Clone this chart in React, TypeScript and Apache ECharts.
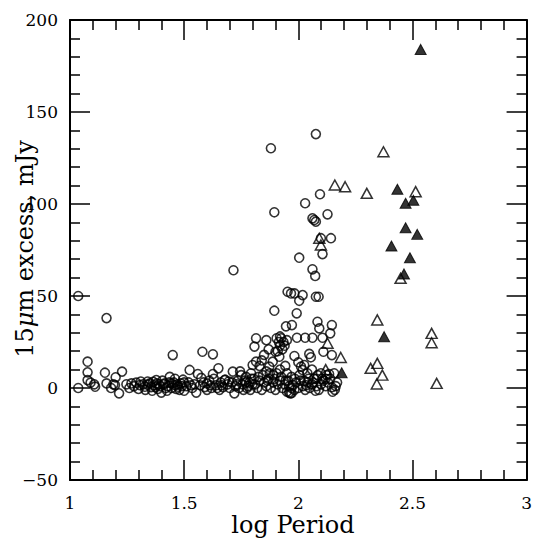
import React, { useEffect, useRef } from "react";
import * as echarts from "echarts";

const xTicks = [1, 1.5, 2, 2.5, 3];
const yTicks = [-50, 0, 50, 100, 150, 200];
const xTitle = "log Period";
const yTitleParts = ["15", "μ", "m excess, mJy"];

const openCircles: [number, number][] = [
  [1.036, 50], [1.036, 0], [1.077, 14.3], [1.077, 8.5], [1.077, 4.3], [1.09, 2.9], [1.106, 2], [1.11, 0.7],
  [1.16, 38], [1.153, 8.3], [1.16, 2.5], [1.18, 0], [1.197, 1.6], [1.2, 5.8], [1.228, 8.9], [1.215, -2.9], [1.19, 2],
  [1.247, 2], [1.269, 2.5], [1.29, 2.9], [1.306, 1.6], [1.328, 0.7], [1.35, 2.5], [1.364, 3.4], [1.378, 4.3],
  [1.4, -2.5], [1.415, 2.5], [1.437, 6], [1.444, 2.5], [1.473, 0.7], [1.48, -1], [1.45, 17.9], [1.26, 0],
  [1.28, 1], [1.31, 3.5], [1.33, -1], [1.355, 0.5], [1.37, 1.5], [1.385, -0.5], [1.39, 2], [1.405, 4], [1.42, 0],
  [1.43, 1], [1.455, 3], [1.46, 5], [1.47, 2], [1.49, 1], [1.5, 3], [1.3, -0.5], [1.34, 1.8], [1.36, -1.5],
  [1.425, -1.5], [1.465, -0.5], [1.375, 0.5], [1.395, 1], [1.41, 2], [1.435, 3], [1.445, 0], [1.46, 1.5],
  [1.485, 2.5], [1.495, 4.5], [1.38, 2.5], [1.34, 3.5], [1.32, 2],
  [1.524, 9.8], [1.56, 7.6], [1.58, 19.7], [1.626, 18.3], [1.65, 10.7], [1.626, 7.6], [1.713, 8.9], [1.72, -2.9],
  [1.553, -2.5], [1.75, 7], [1.771, 6], [1.793, 8], [1.8, 12.5], [1.815, 14.3], [1.808, 22.5], [1.815, 27], [1.716, 64],
  [1.51, 1], [1.52, 3], [1.535, 0], [1.545, 2], [1.57, 1.5], [1.59, 0.5], [1.6, 2.5], [1.61, 4], [1.62, 0],
  [1.64, 1.5], [1.66, 3], [1.67, 0.5], [1.68, 4.5], [1.69, 2], [1.7, 0], [1.71, 3], [1.725, 1], [1.735, 4], [1.74, 0],
  [1.755, 2], [1.76, -1], [1.765, 4], [1.78, 1], [1.785, 3], [1.79, -1], [1.795, 5], [1.6, -1], [1.655, -1],
  [1.677, 4.3], [1.5, -1.5], [1.575, 5.5], [1.63, 5], [1.745, 9], [1.53, 1.5], [1.585, 3], [1.615, 1.5],
  [1.645, 0], [1.665, 1.5], [1.695, 3.5], [1.73, 2], [1.77, 3], [1.775, 0], [1.8, 2], [1.805, 5],
  [2.077, 138], [1.88, 130.3], [2.095, 105.3], [2.03, 100.4], [1.895, 95.5], [2.128, 94.4], [2.062, 92.2],
  [2.07, 91.3], [2.077, 90.4], [2.099, 81.4], [2.143, 81.4], [2.106, 72.8], [2.004, 70.8], [2.062, 64.5], [2.074, 60.9],
  [1.953, 52.3], [1.983, 51.4], [2.019, 50.5], [2.004, 47.4], [1.968, 51.4], [2.077, 49.6], [2.089, 49.6],
  [1.895, 42], [1.993, 40.6], [2.084, 36], [2.092, 32.4], [2.147, 34.2], [1.946, 33.5], [1.972, 34.2], [2.14, 29.7],
  [1.994, 27.3], [2.03, 27.3], [2.062, 27.3], [2.106, 27.3], [1.86, 26],
  [1.905, 27], [1.915, 25], [1.92, 23], [1.925, 27], [1.93, 21], [1.935, 25], [1.91, 20], [1.94, 23], [1.92, 28], [1.95, 26],
  [2.11, 19.7], [2.147, 17.9], [2.048, 18.5], [2.055, 16.7], [1.983, 17.4], [1.943, 12], [1.873, 11.6], [1.888, 14.3],
  [1.917, 17], [1.9, 19.7], [2.019, 9.8], [2.012, 11.6], [2.026, 12.5], [2.099, 8], [2.135, 7.6], [2.157, 8],
  [1.84, 15], [1.85, 18], [1.87, 21], [1.83, 12], [1.86, 9], [1.89, 7], [1.92, 10], [1.95, 8], [1.97, 6], [2.0, 14],
  [2.04, 8], [2.06, 10], [2.08, 5], [2.12, 5], [2.17, 3],
  [1.81, 2], [1.82, 0], [1.83, 4], [1.84, -1], [1.85, 3], [1.86, 1], [1.87, 5], [1.88, 0], [1.89, 3], [1.9, -1],
  [1.91, 2], [1.92, 4], [1.93, 0], [1.94, 2], [1.95, -2], [1.955, 4], [1.96, 1], [1.965, -3], [1.97, 0], [1.975, 1.6],
  [1.983, -1], [1.99, 3], [2.0, 0], [2.01, 4], [2.02, 1], [2.03, -1], [2.04, 3], [2.05, 0], [2.06, 2], [2.07, 5],
  [2.08, 1], [2.09, -1], [2.1, 2], [2.11, 4], [2.12, 1], [2.13, 3], [2.147, 0.4], [2.164, 1], [2.15, -2], [2.16, -1],
  [1.96, -2.5], [1.97, -2.8], [1.825, 6], [1.845, 7], [1.865, 4], [1.875, 8], [1.895, 5], [1.905, 8], [1.925, 6],
  [1.945, 4], [1.985, 5], [2.005, 7], [2.025, 4], [2.045, 5], [2.065, 3], [2.085, 7], [2.105, 5], [2.125, 7],
  [2.14, 5], [2.035, 1.5], [2.075, -1.5],
];

const openTriangles: [number, number][] = [
  [2.373, 128.4], [2.3, 105.8], [2.514, 106.7], [2.346, 37], [2.584, 29.7], [2.584, 24.6], [2.346, 13.4],
  [2.317, 10.7], [2.368, 7], [2.344, 2.2], [2.606, 2.5], [2.448, 59.6], [2.16, 110.3], [2.205, 109.4],
  [2.092, 81.4], [2.099, 77.7], [2.128, 24.3], [2.186, 16.6], [2.12, 10],
];

const filledTriangles: [number, number][] = [
  [2.536, 184], [2.434, 108], [2.504, 102], [2.47, 100.4], [2.47, 87.1], [2.521, 83.5], [2.408, 77.2],
  [2.489, 70.8], [2.463, 62], [2.376, 27.9], [2.19, 8.3],
];

const FONT = "DejaVu Serif";

export default function App() {
  const ref = useRef<HTMLDivElement>(null);
  useEffect(() => {
    const chart = echarts.init(ref.current!, null, { renderer: "svg" });
    const lineStyle = { color: "#000", width: 1.5 };
    const makeX = (position: string, showLabel: boolean) => ({
      type: "value",
      position,
      min: xTicks[0],
      max: xTicks[xTicks.length - 1],
      interval: xTicks[1] - xTicks[0],
      axisLine: { show: true, onZero: false, lineStyle: { color: "#000", width: 2 } },
      axisTick: { show: true, inside: true, length: 20, lineStyle },
      minorTick: { show: true, splitNumber: 5, length: 10, lineStyle },
      splitLine: { show: false },
      minorSplitLine: { show: false },
      axisLabel: {
        show: showLabel,
        margin: 14,
        fontFamily: FONT,
        fontSize: 17,
        color: "#000",
        formatter: (v: number) => String(v),
      },
    });
    const makeY = (position: string, showLabel: boolean) => ({
      type: "value",
      position,
      min: yTicks[0],
      max: yTicks[yTicks.length - 1],
      interval: yTicks[1] - yTicks[0],
      axisLine: { show: true, onZero: false, lineStyle: { color: "#000", width: 2 } },
      axisTick: { show: true, inside: true, length: 20, lineStyle },
      minorTick: { show: true, splitNumber: 5, length: 10, lineStyle },
      splitLine: { show: false },
      minorSplitLine: { show: false },
      axisLabel: {
        show: showLabel,
        margin: 12,
        fontFamily: FONT,
        fontSize: 17,
        color: "#000",
        formatter: (v: number) => (v < 0 ? "\u2212" + Math.abs(v) : String(v)),
      },
    });
    chart.setOption({
      animation: false,
      backgroundColor: "#fff",
      grid: { left: 70, top: 20, right: 7, bottom: 59, containLabel: false },
      xAxis: [makeX("bottom", true), makeX("top", false)],
      yAxis: [makeY("left", true), makeY("right", false)],
      series: [
        {
          type: "scatter",
          xAxisIndex: 0,
          yAxisIndex: 0,
          data: openCircles,
          symbol: "circle",
          symbolSize: 9,
          itemStyle: { color: "rgba(0,0,0,0)", borderColor: "#000", borderWidth: 1.6 },
        },
        {
          type: "scatter",
          xAxisIndex: 0,
          yAxisIndex: 0,
          data: openTriangles,
          symbol: "triangle",
          symbolSize: [11, 10],
          itemStyle: { color: "rgba(0,0,0,0)", borderColor: "#000", borderWidth: 1.5 },
        },
        {
          type: "scatter",
          xAxisIndex: 0,
          yAxisIndex: 0,
          data: filledTriangles,
          symbol: "triangle",
          symbolSize: [11, 10],
          itemStyle: { color: "#000", borderColor: "#000", borderWidth: 1 },
        },
      ],
      graphic: [
        {
          type: "text",
          x: 293,
          y: 525,
          style: {
            text: xTitle,
            fontFamily: FONT,
            fontSize: 24,
            fill: "#000",
            align: "center",
            verticalAlign: "middle",
            textAlign: "center",
            textVerticalAlign: "middle",
          },
        },
        {
          type: "text",
          x: 25,
          y: 249,
          rotation: Math.PI / 2,
          style: {
            text: `{n|${yTitleParts[0]}}{mu|${yTitleParts[1]}}{n|${yTitleParts[2]}}`,
            rich: {
              n: { fontFamily: FONT, fontSize: 24, fill: "#000", color: "#000" },
              mu: { fontFamily: FONT, fontSize: 24, fontStyle: "italic", fill: "#000", color: "#000" },
            },
            fill: "#000",
            align: "center",
            verticalAlign: "middle",
            textAlign: "center",
            textVerticalAlign: "middle",
          },
        },
      ],
    });
    return () => chart.dispose();
  }, []);
  return (
    <div
      ref={ref}
      style={{ position: "fixed", left: 0, top: 0, width: 535, height: 539, background: "#fff" }}
    />
  );
}
